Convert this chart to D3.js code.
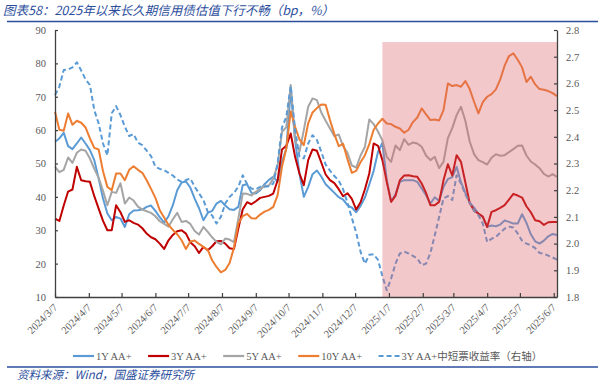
<!DOCTYPE html>
<html>
<head>
<meta charset="utf-8">
<script src="https://cdn.jsdelivr.net/npm/d3@7"></script>
<style>
  body { margin: 0; background: #fff; }
  svg { display: block; }
</style>
</head>
<body>
<div id="chart"></div>
<script>

// data: one value every 4 days starting 2024-03-07
const startDate = '2024-03-07'
const stepDays = 4

const oneY = [
  56.5, 57.5, 59.2, 55.2, 54.3, 56, 57.8, 56, 54, 51, 45.5, 39.5, 35, 33, 34, 33.5, 31, 34.8, 35.9, 36, 36.2, 37, 37.4, 35.8, 33.9, 32.3, 34.2, 37.5, 42,
  44.3, 44.6, 42.8, 39.5, 36.6, 33, 35.2, 35.8, 38, 38.8, 37.4, 36.3, 36.1, 37, 43.5, 43.8, 41.2, 41, 42, 43.8, 45.1, 46, 44.5, 50.5, 54.5, 72, 57, 47, 40,
  43, 46.8, 47.9, 46.1, 43.8, 42.5, 41.2, 39.9, 39.2, 37.5, 36.8, 35.4, 37.3, 39.8, 43.7, 47.8, 53.5, 56.2, 45, 38.6, 40.8, 44.5, 45, 45, 45, 44.5, 42.5, 40.5, 38,
  39.9, 38.8, 43, 45.3, 45.9, 49, 44.4, 41.2, 38.3, 36.8, 35, 34, 31, 31.4, 31.2, 31.7, 32.9, 32.5, 32, 32, 34.8, 32.2, 28.8, 26.7, 26, 26.9, 28.2, 28.9, 28.6
]
const threeY = [
  33.5, 32.8, 37.4, 41.6, 42.2, 49, 45, 44.7, 44.5, 40.2, 36.5, 32.8, 30, 30, 37.5, 35.4, 32.5, 33, 32.2, 31.7, 30.6, 29, 27.9, 27.3, 26, 24.4, 27, 28.6, 29.7,
  30, 29, 26.4, 25.2, 23.2, 25, 24, 25.2, 26.7, 26.8, 26, 24.6, 24.4, 30.5, 36.2, 38.4, 37.8, 38.7, 39.7, 40, 40.3, 41, 45, 54.2, 55.3, 59, 52, 47, 43.5,
  51, 54.2, 53.8, 50.3, 46.7, 45, 44.1, 42.3, 40.2, 41.1, 39.4, 36.2, 38.4, 42.3, 47, 56, 55.3, 51, 44.5, 38.5, 40.3, 45, 46.4, 46.5, 46.2, 46, 44, 41.2, 37.5,
  37.5, 38.5, 45, 49.8, 46.4, 52.5, 50.5, 44.4, 38.2, 35.9, 35, 34.1, 31, 35.5, 36, 36.7, 37.5, 39.2, 40.9, 40.4, 39.8, 37.2, 35.4, 33, 32.7, 31.6, 32.4, 32.5, 32.5
]
const fiveY = [
  49, 47.4, 48.1, 51.8, 50.2, 53.2, 54.2, 53.8, 51.5, 48.4, 45.7, 41.8, 37.5, 41.5, 41.2, 44.1, 38, 39.8, 38.9, 37.1, 36.2, 35.7, 35.2, 34.2, 32.7, 31.9, 31.1, 33.3, 35.2,
  32.5, 32.8, 31.9, 29.8, 28.7, 31, 29.5, 27.9, 26.5, 25.8, 27.5, 27.2, 26.4, 33.5, 41, 40.9, 40.4, 41.5, 42.3, 43.3, 43.4, 45.5, 49.5, 59.5, 60.9, 73.5, 57, 53.5, 60,
  67, 69.5, 69, 65.3, 62.8, 60.5, 58.2, 58.7, 55.2, 53.2, 49.4, 48.8, 52.4, 55, 63.2, 61.8, 59.6, 56.9, 52, 50.5, 55.4, 54, 57.3, 55.6, 56.3, 56, 55, 52.4, 51,
  52, 48.6, 50.5, 57.6, 60.6, 64.5, 67, 62.8, 56.6, 52.8, 51, 50.4, 49.7, 51.7, 52.8, 52.3, 52.5, 53.4, 54.3, 55.3, 55.4, 52.4, 50.6, 49.7, 48.6, 46.9, 46.1, 46.8, 46
]
const tenY = [
  65.5, 60.1, 59.8, 65, 61.6, 62.8, 62.2, 60.8, 57.5, 54.7, 54.2, 47.7, 43, 42, 47, 47, 45, 48.1, 49.2, 48.1, 47.2, 45, 42.4, 39.7, 36, 33.8, 31.6, 30.1, 28.8,
  27, 24.4, 26.6, 26.9, 25.9, 25, 24.1, 21, 19, 17.4, 18.1, 20.2, 24.8, 32, 34.2, 34.9, 33.6, 33.5, 34.7, 35.6, 36.1, 37, 40.5, 49, 54.6, 65.6, 61, 57.2, 55.5,
  62, 65.3, 66.6, 67.7, 67.6, 63, 58.8, 55.2, 55.9, 51.3, 47.2, 47.8, 50.4, 52.5, 55.8, 60.1, 62, 63.4, 62, 61.8, 61, 60.5, 59.2, 60.1, 62.4, 63.8, 66.5, 64.7, 63,
  63.2, 62.9, 66, 74, 73.2, 73.5, 73, 74.7, 72.3, 68.5, 65, 68.4, 70, 70.8, 72.2, 75.2, 79.3, 82.2, 83, 81.1, 78.8, 74.4, 76, 73.7, 72.3, 72.1, 71.7, 71.1, 70.2
]
// right axis, %
const shortYield = [
  2.556, 2.588, 2.65, 2.652, 2.66, 2.679, 2.648, 2.615, 2.594, 2.5, 2.45, 2.375, 2.33, 2.488, 2.515, 2.481, 2.438, 2.403, 2.41, 2.378, 2.369, 2.348, 2.328, 2.288, 2.28, 2.275, 2.265, 2.255, 2.24,
  2.231, 2.238, 2.244, 2.213, 2.188, 2.163, 2.119, 2.105, 2.075, 2.1, 2.15, 2.175, 2.19, 2.213, 2.256, 2.223, 2.206, 2.203, 2.213, 2.213, 2.215, 2.225, 2.3, 2.435, 2.475, 2.59, 2.425, 2.325, 2.319,
  2.375, 2.406, 2.388, 2.344, 2.296, 2.273, 2.253, 2.236, 2.203, 2.153, 2.096, 2.041, 1.969, 1.925, 1.958, 1.96, 1.939, 1.878, 1.825, 1.869, 1.925, 1.963, 1.97, 1.963, 1.954, 1.944, 1.919, 1.925, 1.965,
  2.031, 2.1, 2.169, 2.178, 2.163, 2.256, 2.225, 2.185, 2.153, 2.123, 2.106, 2.075, 2.006, 2.018, 2.025, 2.041, 2.056, 2.063, 2.06, 2.038, 2.011, 2.0, 1.994, 1.983, 1.965, 1.962, 1.955, 1.948, 1.94
]

const tickLabels = ['2024/3/7', '2024/4/7', '2024/5/7', '2024/6/7', '2024/7/7', '2024/8/7', '2024/9/7', '2024/10/7',
  '2024/11/7', '2024/12/7', '2025/1/7', '2025/2/7', '2025/3/7', '2025/4/7', '2025/5/7', '2025/6/7']
const leftTicks = [10, 20, 30, 40, 50, 60, 70, 80, 90]
const rightTicks = [1.8, 1.9, 2.0, 2.1, 2.2, 2.3, 2.4, 2.5, 2.6, 2.7, 2.8]

const shadeStart = '2025-01-01'
const shadeTop = 86.4

const seriesNames = ['1Y AA+', '3Y AA+', '5Y AA+', '10Y AA+', '3Y AA+中短票收益率（右轴）']


function translate(x, y) { return 'translate(' + x + ',' + y + ')' }

let canvas_width = 607,
  canvas_height = 381,
  margin = { top: 30, right: 50, bottom: 84, left: 55 },
  plot_width = canvas_width - margin.left - margin.right,
  plot_height = canvas_height - margin.top - margin.bottom

let blue = '#5B9BD5', red = '#C00000', gray = '#A5A5A5', orange = '#ED7D31'
let navy = '#2B4E9C'
let serif = "'Liberation Serif', 'Times New Roman', serif"

let parseDay = d3.timeParse('%Y-%m-%d')
let parseTick = d3.timeParse('%Y/%m/%d')
let start = parseDay(startDate)
let dates = oneY.map((v, i) => d3.timeDay.offset(start, i * stepDays))

let series = [
  { name: seriesNames[0], values: oneY, color: blue, axis: 'left' },
  { name: seriesNames[1], values: threeY, color: red, axis: 'left' },
  { name: seriesNames[2], values: fiveY, color: gray, axis: 'left' },
  { name: seriesNames[3], values: tenY, color: orange, axis: 'left' },
  { name: seriesNames[4], values: shortYield, color: blue, axis: 'right', dash: '5,3' }
]

let svg = d3.select('#chart').append('svg')
  .attr('width', canvas_width)
  .attr('height', canvas_height)

// title + rules
svg.append('text')
  .attr('x', 3)
  .attr('y', 15)
  .attr('font-family', "'Noto Sans CJK SC', sans-serif")
  .attr('font-style', 'italic')
  .attr('font-size', '12.5px')
  .attr('fill', navy)
  .text('图表58：2025年以来长久期信用债估值下行不畅（bp，%）')

svg.append('line')
  .attr('x1', 7).attr('x2', 598)
  .attr('y1', 21.5).attr('y2', 21.5)
  .attr('stroke', navy).attr('stroke-width', 1.3)

svg.append('line')
  .attr('x1', 7).attr('x2', 598)
  .attr('y1', 367).attr('y2', 367)
  .attr('stroke', navy).attr('stroke-width', 1.3)

svg.append('text')
  .attr('x', 17)
  .attr('y', 379)
  .attr('font-family', "'Noto Sans CJK SC', sans-serif")
  .attr('font-style', 'italic')
  .attr('font-size', '11.5px')
  .attr('fill', navy)
  .text('资料来源：Wind，国盛证券研究所')

let xScale = d3.scaleTime()
  .domain([dates[0], dates[dates.length - 1]])
  .range([0, plot_width])

let yLeft = d3.scaleLinear().domain([10, 90]).range([plot_height, 0])
let yRight = d3.scaleLinear().domain([1.8, 2.8]).range([plot_height, 0])

let plot = svg.append('g')
  .attr('class', 'main_plot')
  .attr('transform', translate(margin.left, margin.top))

for (let s of series) {
  let yScale = s.axis === 'left' ? yLeft : yRight
  let line = d3.line()
    .x((d, i) => xScale(dates[i]))
    .y(d => yScale(d))
  plot.append('path')
    .datum(s.values)
    .attr('fill', 'none')
    .attr('stroke', s.color)
    .attr('stroke-width', 2)
    .attr('stroke-linejoin', 'round')
    .attr('stroke-dasharray', s.dash || null)
    .attr('d', line)
}

// shaded period since 2025
let shadeX = xScale(parseDay(shadeStart))
plot.append('rect')
  .attr('x', shadeX)
  .attr('y', yLeft(shadeTop))
  .attr('width', plot_width - shadeX)
  .attr('height', plot_height - yLeft(shadeTop))
  .attr('fill', 'rgb(218,98,106)')
  .attr('fill-opacity', 0.35)

// axes
let xAxis = d3.axisBottom(xScale)
  .tickValues(tickLabels.map(parseTick))
  .tickFormat((d, i) => tickLabels[i])
  .tickSize(-4)
  .tickSizeOuter(0)

let xAxis_container = plot.append('g')
  .attr('class', 'xaxis')
  .attr('transform', translate(0, plot_height))
  .call(xAxis)

let yAxisL = d3.axisLeft(yLeft)
  .tickValues(leftTicks)
  .tickSize(-3)
  .tickSizeOuter(0)
  .tickPadding(9)

let yAxisL_container = plot.append('g')
  .attr('class', 'yaxis')
  .call(yAxisL)

let yAxisR = d3.axisRight(yRight)
  .tickValues(rightTicks)
  .tickFormat(d3.format('.1f'))
  .tickSize(-3)
  .tickSizeOuter(0)
  .tickPadding(9)

let yAxisR_container = plot.append('g')
  .attr('class', 'yaxis')
  .attr('transform', translate(plot_width, 0))
  .call(yAxisR)

for (let ax of [xAxis_container, yAxisL_container, yAxisR_container]) {
  ax.attr('font-family', serif).attr('font-size', '10.5px')
  ax.select('.domain').attr('stroke', '#404040').attr('stroke-width', 1.3)
  ax.selectAll('.tick line').attr('stroke', '#404040').attr('stroke-width', 1.2)
  ax.selectAll('.tick text').attr('fill', '#595959')
}

xAxis_container.selectAll('text')
  .attr('text-anchor', 'end')
  .attr('x', -6)
  .attr('y', 6)
  .attr('dy', '0.35em')
  .attr('transform', 'rotate(-45)')

// legend
let legend = svg.append('g')
  .attr('class', 'legend')
  .attr('transform', translate(73, 356))

let lx = 0
for (let s of series) {
  let item = legend.append('g').attr('transform', translate(lx, 0))
  item.append('line')
    .attr('x1', 0).attr('x2', 21)
    .attr('y1', 0).attr('y2', 0)
    .attr('stroke', s.color)
    .attr('stroke-width', 2.2)
    .attr('stroke-dasharray', s.dash || null)
  let t = item.append('text')
    .attr('x', 23)
    .attr('y', 3.6)
    .attr('font-family', "'Liberation Serif', 'Noto Sans CJK SC', serif")
    .attr('font-size', '10.5px')
    .attr('fill', '#595959')
    .text(s.name)
  lx += 23 + t.node().getComputedTextLength() + 16.5
}

</script>
</body>
</html>
